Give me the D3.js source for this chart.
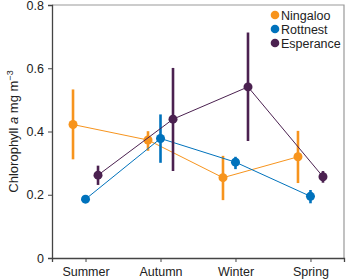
<!DOCTYPE html>
<html>
<head>
  <script src="https://d3js.org/d3.v7.min.js"></script>
  <style>
    body { margin: 0; background: #fff; }
    text { font-family: "Liberation Sans", Arial, sans-serif; fill: #222; }
  </style>
</head>
<body>
  <div id="chart"></div>
  <script>
    var seasons = ["Summer", "Autumn", "Winter", "Spring"];
    var sites = ["Ningaloo", "Rottnest", "Esperance"];
    var colors = ["#F7941D", "#0072BC", "#4B2150"];
    var yTicks = [0, 0.2, 0.4, 0.6, 0.8];

    // mean, lower, upper per season
    var ningaloo = [[0.422, 0.312, 0.533], [0.373, 0.339, 0.401], [0.254, 0.183, 0.323], [0.320, 0.237, 0.402]];
    var rottnest = [[0.186, 0.176, 0.198], [0.378, 0.301, 0.454], [0.303, 0.281, 0.320], [0.195, 0.173, 0.215]];
    var esperance = [[0.262, 0.231, 0.292], [0.439, 0.275, 0.601], [0.541, 0.370, 0.713], [0.257, 0.238, 0.275]];
    var series = [ningaloo, rottnest, esperance];
    var offsets = [-12.5, 0, 12.5];

    var width = 346, height = 280;
    var margin = {top: 5, right: 2, bottom: 22, left: 52};
    var w = width - margin.left - margin.right;
    var h = height - margin.top - margin.bottom;

    var svg = d3.select("#chart").append("svg")
      .attr("width", width)
      .attr("height", height)
      .append("g")
      .attr("transform", "translate(" + margin.left + "," + margin.top + ")");

    var x = d3.scalePoint().domain(seasons).range([0, w]).padding(0.447);
    var y = d3.scaleLinear().domain([0, 0.8]).range([h, 0]);

    // frame top/right
    svg.append("path")
      .attr("d", "M0,0H" + w + "V" + h)
      .attr("fill", "none")
      .attr("stroke", "#999")
      .attr("stroke-width", 1.2);

    var xAxis = svg.append("g")
      .attr("transform", "translate(0," + h + ")")
      .call(d3.axisBottom(x).tickSize(4).tickPadding(5));
    var yAxis = svg.append("g")
      .call(d3.axisLeft(y).tickValues(yTicks).tickSize(4).tickPadding(4)
        .tickFormat(function(d) { return d === 0 ? "0" : d3.format(".1f")(d); }));
    [xAxis, yAxis].forEach(function(a) {
      a.select(".domain").attr("stroke", "#444").attr("stroke-width", 1.3);
      a.selectAll(".tick line").attr("stroke", "#444");
      a.selectAll("text").style("font-size", "12.5px").attr("fill", "#222");
    });

    series.forEach(function(s, i) {
      var g = svg.append("g");
      var px = function(d, j) { return x(seasons[j]) + offsets[i]; };
      g.append("path")
        .datum(s)
        .attr("fill", "none")
        .attr("stroke", colors[i])
        .attr("stroke-width", 1)
        .attr("d", d3.line().x(px).y(function(d) { return y(d[0]); }));
      g.selectAll(".err").data(s).enter().append("line")
        .attr("x1", px).attr("x2", px)
        .attr("y1", function(d) { return y(d[1]); })
        .attr("y2", function(d) { return y(d[2]); })
        .attr("stroke", colors[i])
        .attr("stroke-width", 2.6);
      g.selectAll("circle").data(s).enter().append("circle")
        .attr("cx", px)
        .attr("cy", function(d) { return y(d[0]); })
        .attr("r", 4.5)
        .attr("fill", colors[i]);
    });

    // legend
    var legend = svg.append("g").attr("transform", "translate(" + (275 - margin.left) + "," + (15 - margin.top) + ")");
    sites.forEach(function(name, i) {
      legend.append("circle").attr("cx", 0).attr("cy", i * 14).attr("r", 4.3).attr("fill", colors[i]);
      legend.append("text").attr("x", 6).attr("y", i * 14 + 4.5).style("font-size", "12.5px").text(name);
    });

    // y label
    var yl = svg.append("text")
      .attr("transform", "translate(" + (18 - margin.left) + "," + (h / 2) + ") rotate(-90)")
      .attr("text-anchor", "middle")
      .style("font-size", "13px");
    yl.append("tspan").text("Chlorophyll ");
    yl.append("tspan").style("font-style", "italic").text("a");
    yl.append("tspan").text(" mg m");
    yl.append("tspan").attr("dy", -5).style("font-size", "9px").text("\u22123");
  </script>
</body>
</html>
